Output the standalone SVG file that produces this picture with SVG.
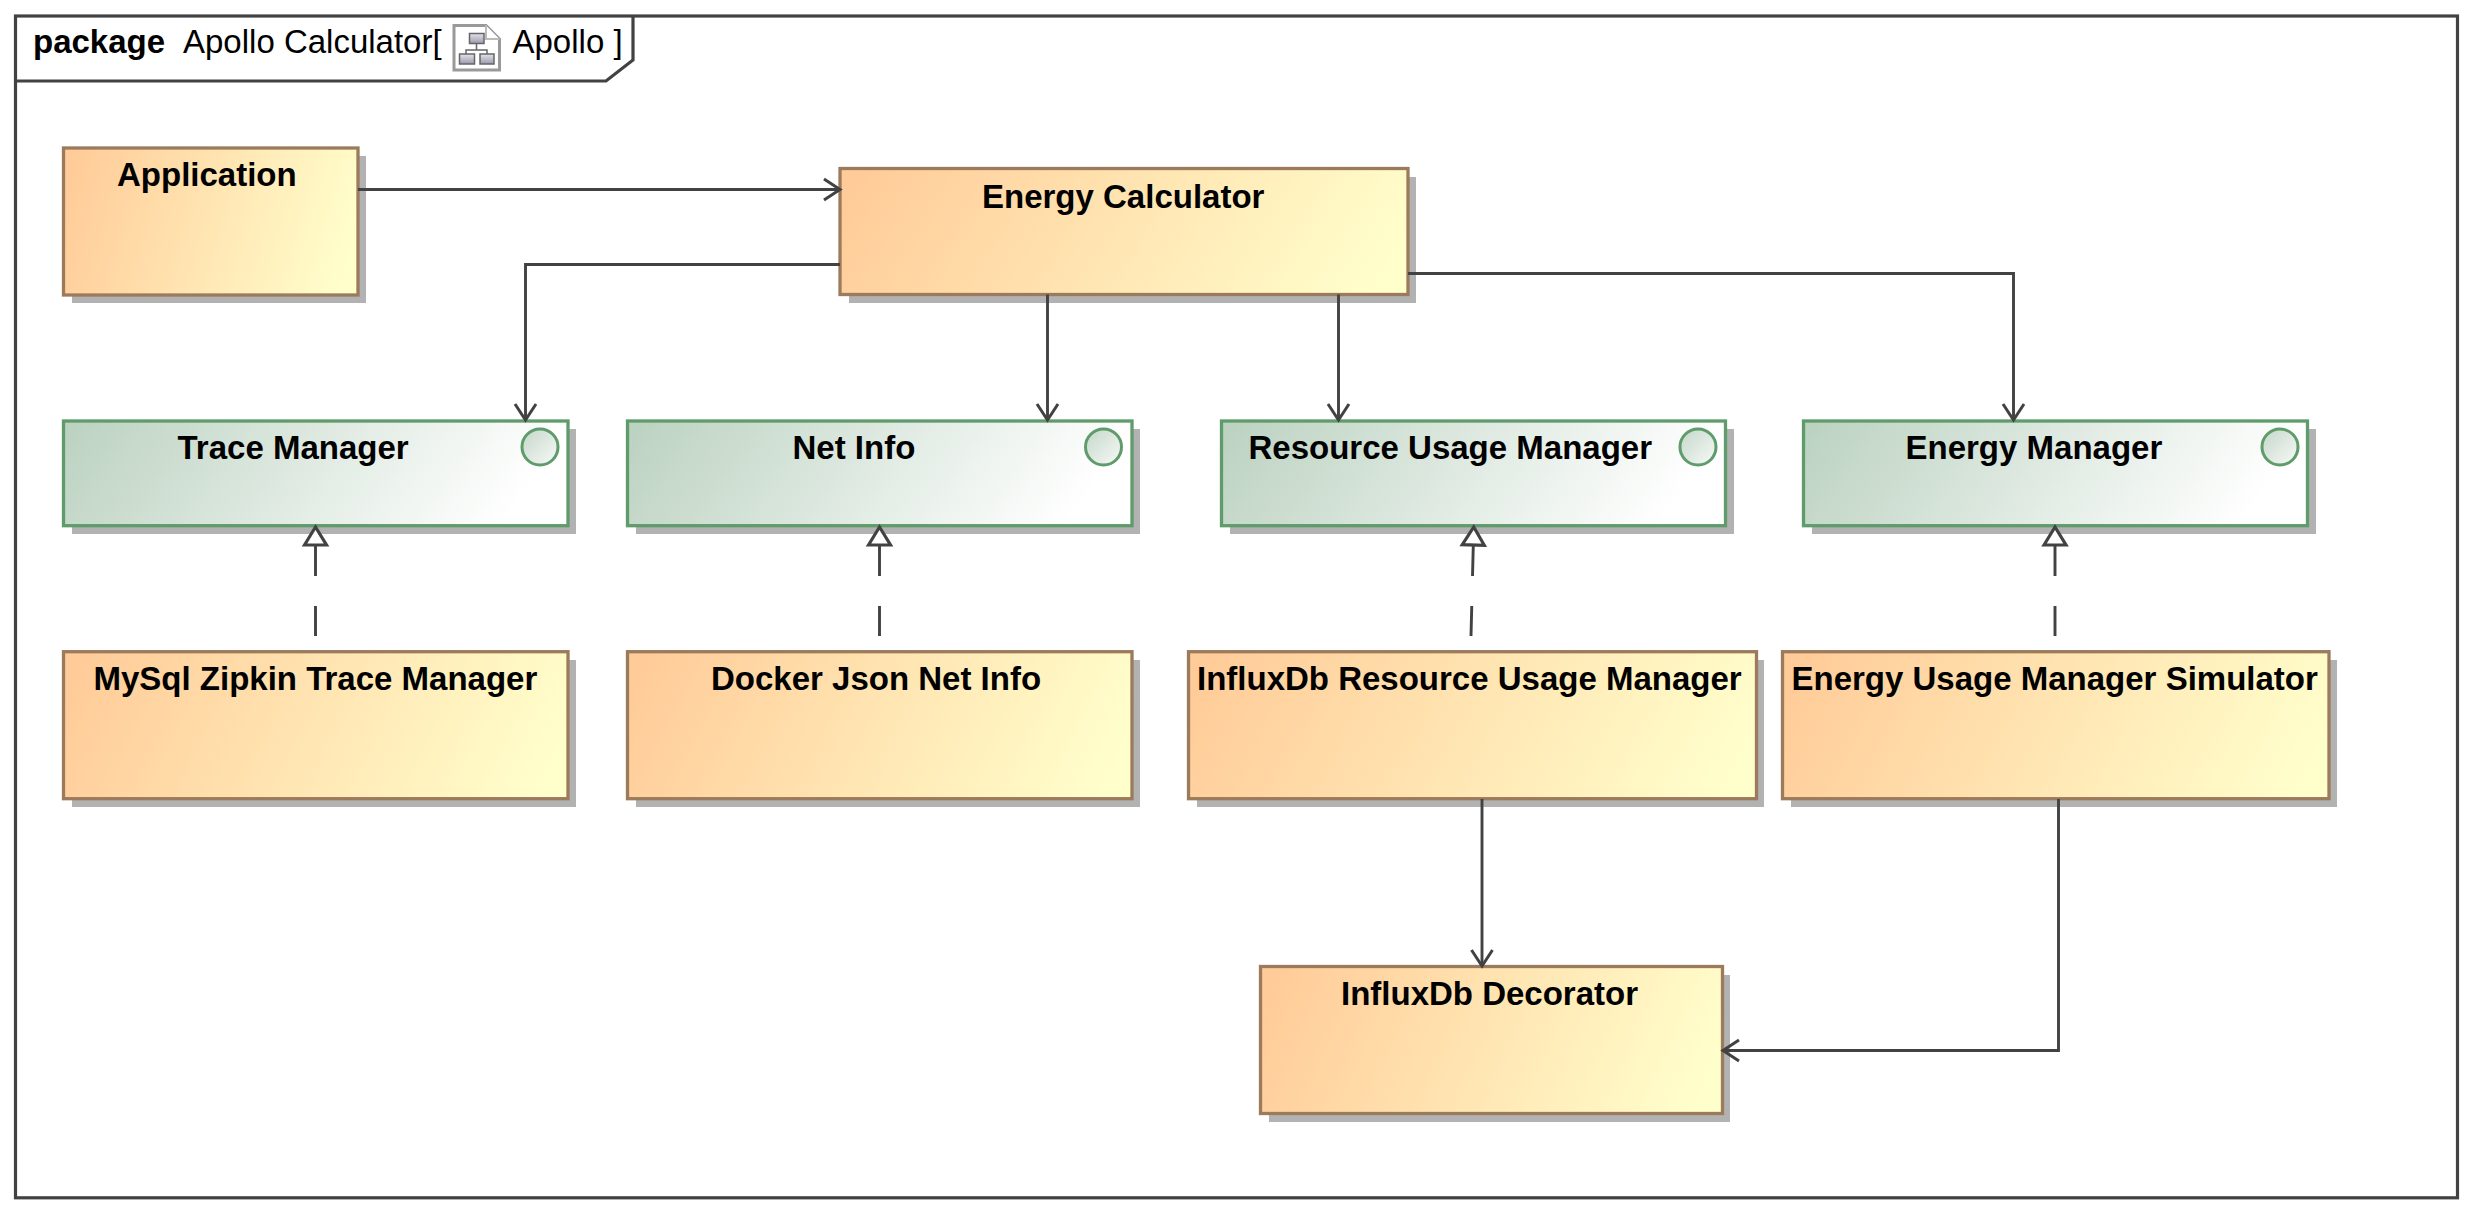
<svg xmlns="http://www.w3.org/2000/svg" width="2472" height="1212" viewBox="0 0 2472 1212">
<style>
text{font-family:"Liberation Sans",Arial,sans-serif;font-size:33px;fill:#000}
.b{font-weight:bold}
.sh{fill:#b2b2b2}
.cls{fill:url(#og);stroke:#9b7b5c;stroke-width:3.3}
.ifc{fill:url(#gg);stroke:#5f9b6b;stroke-width:3.3}
.dot{fill:url(#gc);stroke:#5f9b6b;stroke-width:3}
.ln{fill:none;stroke:#424242;stroke-width:2.9}
.dep{marker-end:url(#open)}
.real{stroke-dasharray:30 30;marker-end:url(#tri)}
.ic{fill:url(#ib);stroke:#666;stroke-width:1.5}
</style>
<defs>
<linearGradient id="og" x1="0" y1="0" x2="1.06" y2="0.15"><stop offset="0.05" stop-color="#ffcc99"/><stop offset="1" stop-color="#ffffcc"/></linearGradient>
<linearGradient id="gg" x1="0" y1="0" x2="1" y2="0.15"><stop offset="0.03" stop-color="#bdd3c2"/><stop offset="1" stop-color="#ffffff"/></linearGradient>
<linearGradient id="gc" x1="0" y1="0" x2="1" y2="1"><stop offset="0" stop-color="#c4d7c9"/><stop offset="1" stop-color="#f8faf8"/></linearGradient>
<linearGradient id="ib" x1="0" y1="0" x2="0" y2="1"><stop offset="0" stop-color="#e4e4ec"/><stop offset="1" stop-color="#9a9aac"/></linearGradient>
<marker id="open" markerUnits="userSpaceOnUse" markerWidth="40" markerHeight="40" refX="0" refY="0" viewBox="-20 -20 40 40" orient="auto"><path d="M-16,-10.5 L0,0 L-16,10.5" fill="none" stroke="#424242" stroke-width="3"/></marker>
<marker id="tri" markerUnits="userSpaceOnUse" markerWidth="60" markerHeight="60" refX="0" refY="0" viewBox="-30 -30 60 60" orient="auto"><path d="M0,-11 L18,0 L0,11 Z" fill="#fff" stroke="#424242" stroke-width="3.2"/></marker>
</defs>

<g id="frame">
<rect x="15.5" y="16" width="2442" height="1181.8" fill="#fff" stroke="#424242" stroke-width="3.2"/>
<path d="M15.5,81 H606 L633,60 V16" fill="none" stroke="#424242" stroke-width="3.2"/>
<text class="b" x="33" y="53">package</text>
<text x="183" y="53">Apollo Calculator[</text>
<g id="diagram-icon">
<path d="M454,25.5 H486 L499.5,39 V70 H454 Z" fill="#fff" stroke="#999" stroke-width="3"/>
<path d="M486,25.5 V39 H499.5" fill="#fff" stroke="#bbb" stroke-width="2"/>
<path d="M476.5,43 V50 M466,56 V50 H487 V56" fill="none" stroke="#666" stroke-width="1.5"/>
<rect class="ic" x="469.5" y="33.5" width="14.5" height="10"/>
<rect class="ic" x="459.5" y="54" width="15" height="10"/>
<rect class="ic" x="480" y="54" width="14" height="10"/>
</g>
<text x="512.5" y="53">Apollo ]</text>
</g>

<g id="node-application">
<rect class="sh" x="72" y="156" width="294" height="147"/>
<rect class="cls" x="63.5" y="148" width="294.5" height="147"/>
<text class="b" x="117" y="186">Application</text>
</g>
<g id="node-energy-calculator">
<rect class="sh" x="849" y="177" width="567" height="126"/>
<rect class="cls" x="840" y="168.5" width="568" height="126"/>
<text class="b" x="982" y="207.500">Energy Calculator</text>
</g>

<g id="node-trace-manager">
<rect class="sh" x="72" y="429" width="504" height="105"/>
<rect class="ifc" x="63.5" y="421" width="504.5" height="104.700"/>
<circle class="dot" cx="540" cy="447" r="18"/>
<text class="b" x="177.5" y="459">Trace Manager</text>
</g>
<g id="node-net-info">
<rect class="sh" x="636" y="429" width="504" height="105"/>
<rect class="ifc" x="627.5" y="421" width="504.5" height="104.700"/>
<circle class="dot" cx="1103.500" cy="447" r="18"/>
<text class="b" x="792.500" y="459">Net Info</text>
</g>
<g id="node-resource-usage-manager">
<rect class="sh" x="1230" y="429" width="504" height="105"/>
<rect class="ifc" x="1221.5" y="421" width="504" height="104.700"/>
<circle class="dot" cx="1698" cy="447" r="18"/>
<text class="b" x="1248.500" y="459">Resource Usage Manager</text>
</g>
<g id="node-energy-manager">
<rect class="sh" x="1812" y="429" width="504" height="105"/>
<rect class="ifc" x="1803.5" y="421" width="504" height="104.700"/>
<circle class="dot" cx="2280" cy="447" r="18"/>
<text class="b" x="1905.500" y="459">Energy Manager</text>
</g>

<g id="node-mysql-zipkin-trace-manager">
<rect class="sh" x="72" y="660" width="504" height="147"/>
<rect class="cls" x="63.5" y="651.7" width="504.5" height="147"/>
<text class="b" x="93.500" y="690">MySql Zipkin Trace Manager</text>
</g>
<g id="node-docker-json-net-info">
<rect class="sh" x="636" y="660" width="504" height="147"/>
<rect class="cls" x="627.5" y="651.7" width="504.5" height="147"/>
<text class="b" x="711" y="690">Docker Json Net Info</text>
</g>
<g id="node-influxdb-resource-usage-manager">
<rect class="sh" x="1197" y="660" width="567" height="147"/>
<rect class="cls" x="1188.5" y="651.7" width="568" height="147"/>
<text class="b" x="1197" y="690">InfluxDb Resource Usage Manager</text>
</g>
<g id="node-energy-usage-manager-simulator">
<rect class="sh" x="1791" y="660" width="546" height="147"/>
<rect class="cls" x="1782.5" y="651.7" width="546.5" height="147"/>
<text class="b" x="1791.500" y="690">Energy Usage Manager Simulator</text>
</g>
<g id="node-influxdb-decorator">
<rect class="sh" x="1269" y="975" width="461" height="147"/>
<rect class="cls" x="1260.5" y="966.5" width="462" height="147"/>
<text class="b" x="1341" y="1005">InfluxDb Decorator</text>
</g>

<g id="connectors">
<path class="ln dep" d="M358,189.5 H840"/>
<path class="ln dep" d="M840,264.5 H525.5 V420"/>
<path class="ln dep" d="M1047.5,294.5 V420"/>
<path class="ln dep" d="M1338.5,294.5 V420"/>
<path class="ln dep" d="M1408,273.5 H2013.5 V420"/>
<path class="ln dep" d="M1482,799 V966"/>
<path class="ln dep" d="M2058.5,799 V1050.5 H1723"/>
<path class="ln real" d="M315.5,636 V545"/>
<path class="ln real" d="M879.5,636 V545"/>
<path class="ln real" d="M1471,636 L1473.3,545"/>
<path class="ln real" d="M2055,636 V545"/>
</g>
</svg>
